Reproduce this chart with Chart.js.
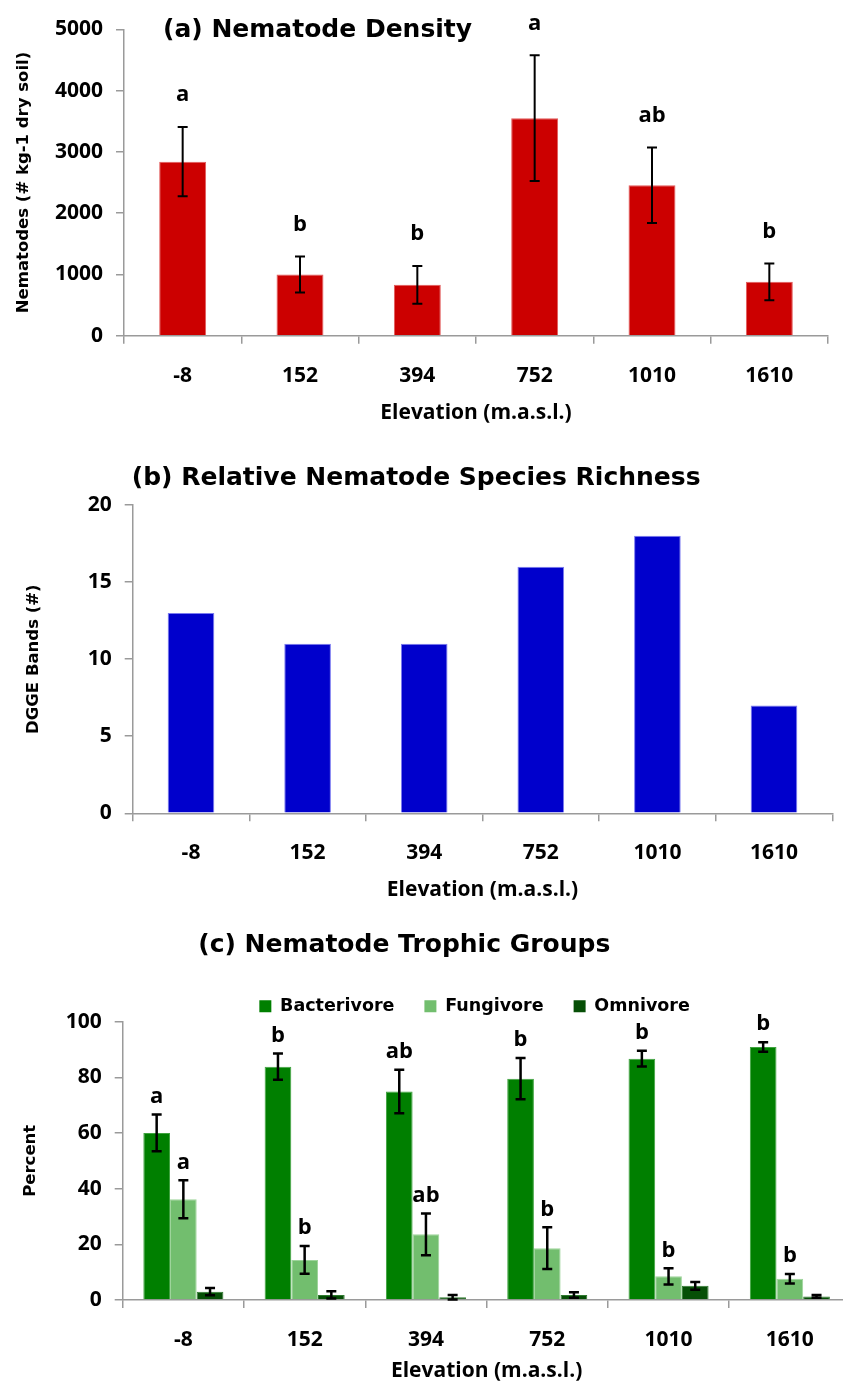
<!DOCTYPE html>
<html><head><meta charset="utf-8">
<script src="https://cdn.jsdelivr.net/npm/chart.js@4.4.1/dist/chart.umd.min.js"></script>
<style>
html,body{margin:0;padding:0;background:#fff;width:843px;height:1384px;overflow:hidden;position:relative}
.box{position:absolute;left:0}
canvas{display:block}
</style></head><body>
<div class="box" style="top:0"><canvas id="cA" width="843" height="450"></canvas></div>
<div class="box" style="top:450px"><canvas id="cB" width="843" height="470"></canvas></div>
<div class="box" style="top:920px"><canvas id="cC" width="860" height="464"></canvas></div>
<script>
// ---- data ----
const categories = ['-8', '152', '394', '752', '1010', '1610'];

const densityValues  = [2840, 1000, 830, 3550, 2455, 880];
const densityErrors  = [565, 294, 308, 1025, 615, 300];
const densityLetters = ['a', 'b', 'b', 'a', 'ab', 'b'];

const richnessValues = [13, 11, 11, 16, 18, 7];

const bacterivoreValues  = [60.0, 83.8, 74.9, 79.5, 86.7, 90.9];
const bacterivoreErrors  = [6.6, 4.7, 7.8, 7.4, 2.8, 1.7];
const bacterivoreLetters = ['a', 'b', 'ab', 'b', 'b', 'b'];
const fungivoreValues    = [36.2, 14.4, 23.6, 18.6, 8.5, 7.6];
const fungivoreErrors    = [6.8, 5.0, 7.5, 7.5, 2.9, 1.7];
const fungivoreLetters   = ['a', 'b', 'ab', 'b', 'b', 'b'];
const omnivoreValues     = [3.0, 1.8, 1.0, 1.8, 5.1, 1.3];
const omnivoreErrors     = [1.3, 1.3, 0.8, 1.0, 1.4, 0.5];

const seriesNames = ['Bacterivore', 'Fungivore', 'Omnivore'];

// ---- styling ----
Chart.defaults.font.family = "'Open Sans', sans-serif";
Chart.defaults.color = '#000';
const AXIS = '#9a9a9a';
const tickFont = {family: "'Open Sans'", size: 21, weight: 'bold'};
const xTitleFont = {family: "'Open Sans'", size: 21, weight: 'bold'};
const yTitleFont = {family: "'DejaVu Sans'", size: 16.5, weight: 'bold'};
const mainTitleFont = {family: "'DejaVu Sans'", size: 25, weight: 'bold'};
const letterFont = "bold 22px 'Open Sans'";

const errorBarPlugin = {
  id: 'errorBars',
  afterDatasetsDraw(chart, args, opts) {
    const ctx = chart.ctx;
    const y = chart.scales.y;
    chart.data.datasets.forEach((ds, i) => {
      const meta = chart.getDatasetMeta(i);
      meta.data.forEach((el, j) => {
        const v = ds.data[j];
        let topPx = y.getPixelForValue(v);
        if (ds.errors) {
          const e = ds.errors[j];
          topPx = y.getPixelForValue(v + e);
          const botPx = y.getPixelForValue(Math.max(v - e, 0));
          ctx.save();
          ctx.strokeStyle = '#000';
          ctx.lineWidth = opts.lineWidth || 2;
          ctx.beginPath();
          ctx.moveTo(el.x, topPx); ctx.lineTo(el.x, botPx);
          ctx.moveTo(el.x - 5, topPx); ctx.lineTo(el.x + 5, topPx);
          ctx.moveTo(el.x - 5, botPx); ctx.lineTo(el.x + 5, botPx);
          ctx.stroke();
          ctx.restore();
        }
        if (ds.letters && ds.letters[j]) {
          ctx.save();
          ctx.font = letterFont;
          ctx.fillStyle = '#000';
          ctx.textAlign = 'center';
          ctx.textBaseline = 'middle';
          ctx.fillText(ds.letters[j], el.x, topPx - (opts.letterOffset || 30));
          ctx.restore();
        }
      });
    });
  }
};

const shiftPlugin = {
  id: 'shiftBoxes',
  afterLayout(chart, args, opts) {
    if (opts.titleDx && chart.titleBlock) { chart.titleBlock.left += opts.titleDx; chart.titleBlock.right += opts.titleDx; }
    if (opts.legendDx && chart.legend) { chart.legend.left += opts.legendDx; chart.legend.right += opts.legendDx; }
  }
};

function xScale(labelPad, titlePadBottom, height) {
  return {
    type: 'category',
    afterFit(s) { s.height = height; },
    grid: {display: true, drawOnChartArea: false, drawTicks: true, tickLength: 8, color: AXIS, lineWidth: 1.5, offset: true},
    border: {display: true, color: AXIS, width: 1.5},
    ticks: {font: tickFont, color: '#000', padding: labelPad, maxRotation: 0, autoSkip: false},
    title: {display: true, text: 'Elevation (m.a.s.l.)', font: xTitleFont, color: '#000', padding: {top: 0, bottom: titlePadBottom}}
  };
}
function yScale(max, step, titleText, titlePadTop, width) {
  return {
    min: 0, max: max,
    afterFit(s) { s.width = width; },
    grid: {display: true, drawOnChartArea: false, drawTicks: true, tickLength: 8, color: AXIS, lineWidth: 1.5},
    border: {display: true, color: AXIS, width: 1.5},
    ticks: {stepSize: step, font: tickFont, color: '#000', padding: 13, callback: (v) => String(v)},
    title: {display: true, text: titleText, font: yTitleFont, color: '#000', padding: {top: titlePadTop, bottom: 0}}
  };
}

// ---- (a) ----
new Chart(document.getElementById('cA'), {
  type: 'bar',
  data: {
    labels: categories,
    datasets: [{
      label: 'Nematode density', data: densityValues, errors: densityErrors, letters: densityLetters,
      backgroundColor: '#CC0000', borderColor: '#E25A5A', borderWidth: 1,
      categoryPercentage: 0.4, barPercentage: 1.0
    }]
  },
  options: {
    responsive: false, animation: false, devicePixelRatio: 1,
    layout: {padding: {top: 29.3, right: 15, left: 0, bottom: 0}},
    plugins: {
      legend: {display: false}, tooltip: {enabled: false},
      title: {display: true, text: '(a) Nematode Density', font: {family: "'DejaVu Sans'", size: 25, weight: 'bold'}, color: '#000',
              align: 'start', fullSize: false, padding: {top: -14.3, bottom: -15.7}},
      errorBars: {lineWidth: 2, letterOffset: 32},
      shiftBoxes: {titleDx: 39}
    },
    scales: {
      x: xScale(19.4, 24.4, 114.3),
      y: yScale(5000, 1000, 'Nematodes (# kg-1 dry soil)', 14, 124)
    }
  },
  plugins: [errorBarPlugin, shiftPlugin]
});

// ---- (b) ----
new Chart(document.getElementById('cB'), {
  type: 'bar',
  data: {
    labels: categories,
    datasets: [{
      label: 'DGGE bands', data: richnessValues,
      backgroundColor: '#0000CC', borderColor: '#7B7BF0', borderWidth: 1,
      categoryPercentage: 0.4, barPercentage: 1.0
    }]
  },
  options: {
    responsive: false, animation: false, devicePixelRatio: 1,
    layout: {padding: {top: 0, right: 10.7, left: 0, bottom: 0}},
    plugins: {
      legend: {display: false}, tooltip: {enabled: false},
      title: {display: true, text: '(b) Relative Nematode Species Richness', font: mainTitleFont, color: '#000',
              padding: {top: 13, bottom: 12}}
    },
    scales: {
      x: xScale(19.4, 17.4, 106.7),
      y: yScale(20, 5, 'DGGE Bands (#)', 23.5, 132.7)
    }
  }
});

// ---- (c) ----
new Chart(document.getElementById('cC'), {
  type: 'bar',
  data: {
    labels: categories,
    datasets: [
      {label: seriesNames[0], data: bacterivoreValues, errors: bacterivoreErrors, letters: bacterivoreLetters,
       backgroundColor: '#007F00', borderColor: '#3FA33F', borderWidth: 1, categoryPercentage: 0.66, barPercentage: 1.0},
      {label: seriesNames[1], data: fungivoreValues, errors: fungivoreErrors, letters: fungivoreLetters,
       backgroundColor: '#72BE6E', borderColor: '#9ED49B', borderWidth: 1, categoryPercentage: 0.66, barPercentage: 1.0},
      {label: seriesNames[2], data: omnivoreValues, errors: omnivoreErrors,
       backgroundColor: '#064F06', borderColor: '#2F7A2F', borderWidth: 1, categoryPercentage: 0.66, barPercentage: 1.0}
    ]
  },
  options: {
    responsive: false, animation: false, devicePixelRatio: 1,
    layout: {padding: {top: 0, right: 9.5, left: 0, bottom: 0}},
    plugins: {
      tooltip: {enabled: false},
      title: {display: true, text: '(c) Nematode Trophic Groups', font: mainTitleFont, color: '#000',
              padding: {top: 10.6, bottom: 7}},
      legend: {display: true, position: 'top', fullSize: false, maxHeight: 54,
               labels: {font: {family: "'DejaVu Sans'", size: 17.5, weight: 'bold'}, color: '#000', boxWidth: 12, boxHeight: 12, padding: 30,
                        generateLabels(chart) {
                          return chart.data.datasets.map((ds, i) => ({text: ds.label, fillStyle: ds.backgroundColor, strokeStyle: ds.backgroundColor, lineWidth: 0, datasetIndex: i, hidden: false}));
                        }}},
      errorBars: {lineWidth: 2.5, letterOffset: 18},
      shiftBoxes: {titleDx: -21, legendDx: -12}
    },
    scales: {
      x: xScale(19.4, 0, 84),
      y: yScale(100, 20, 'Percent', 20.8, 122.7)
    }
  },
  plugins: [errorBarPlugin, shiftPlugin]
});
</script>
</body></html>
